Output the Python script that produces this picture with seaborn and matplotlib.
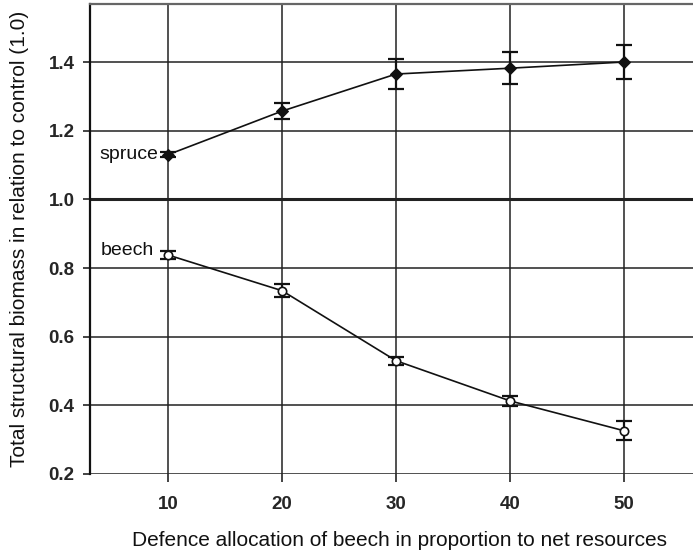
import matplotlib
matplotlib.use("Agg")
import matplotlib.pyplot as plt
import seaborn as sns
import pandas as pd
from matplotlib import font_manager

allocation = [10, 20, 30, 40, 50]
spruce = [1.13, 1.257, 1.365, 1.382, 1.40]
spruce_err = [0.008, 0.023, 0.043, 0.047, 0.05]
beech = [0.838, 0.734, 0.530, 0.413, 0.326]
beech_err = [0.012, 0.018, 0.012, 0.014, 0.027]
yticks = [0.2, 0.4, 0.6, 0.8, 1.0, 1.2, 1.4]
xticks = [10, 20, 30, 40, 50]

sns.set_theme(style="white")
names = {f.name for f in font_manager.fontManager.ttflist}
narrow = "Liberation Sans Narrow" if "Liberation Sans Narrow" in names else "Liberation Sans"
plt.rcParams['font.family'] = ['Liberation Sans', 'DejaVu Sans']

fig = plt.figure(figsize=(6.93, 5.52), dpi=100)
ax = fig.add_axes([90/693, 78/552, 1 - 90/693, (474-4)/552])

df_s = pd.DataFrame({"x": allocation, "y": spruce})
df_b = pd.DataFrame({"x": allocation, "y": beech})

# grid
for yv in yticks:
    ax.axhline(yv, color="#222222", lw=2.2 if yv == 1.0 else 1.1, zorder=1)
for xv in xticks:
    ax.axvline(xv, color="#222222", lw=1.1, zorder=1)

ax.errorbar(allocation, spruce, yerr=spruce_err, fmt="none", ecolor="#111111",
            elinewidth=1.6, capsize=6, capthick=1.6, zorder=3)
ax.errorbar(allocation, beech, yerr=beech_err, fmt="none", ecolor="#111111",
            elinewidth=1.6, capsize=6, capthick=1.6, zorder=3)

sns.lineplot(data=df_s, x="x", y="y", ax=ax, color="#111111", lw=1.2,
             marker="D", markersize=6, markerfacecolor="#111111",
             markeredgecolor="#111111", zorder=4)
sns.lineplot(data=df_b, x="x", y="y", ax=ax, color="#111111", lw=1.2,
             marker="o", markersize=6, markerfacecolor="white",
             markeredgecolor="#111111", markeredgewidth=1.2, zorder=4)

ax.annotate("spruce", xy=(10, spruce[0]), xytext=(-7, 0), textcoords="offset points",
            ha="right", va="center", fontsize=14, color="#111111")
ax.annotate("beech", xy=(10, beech[0]), xytext=(-10, 3), textcoords="offset points",
            ha="right", va="center", fontsize=14, color="#111111")

ax.set_xlim(3.16, 56.05)
ax.set_ylim(0.2, 1.569)
ax.set_xticks(xticks)
ax.set_yticks(yticks)
ax.set_xticklabels([str(v) for v in xticks], fontweight="bold", fontsize=13.5,
                   family=[narrow, 'DejaVu Sans'])
ax.set_yticklabels([f"{v:.1f}" for v in yticks], fontweight="bold", fontsize=13.5,
                   family=[narrow, 'DejaVu Sans'])
ax.tick_params(axis="x", direction="out", length=6, width=1.1, color="#111111",
               pad=10, bottom=True)
ax.tick_params(axis="y", direction="out", length=5, width=1.1, color="#111111",
               pad=6, left=True)

ax.set_xlabel("Defence allocation of beech in proportion to net resources",
              fontsize=15, labelpad=13, color="#111111")
ax.xaxis.label.set_x((400 - 90) / 603)
ax.set_ylabel("Total structural biomass in relation to control (1.0)",
              fontsize=15, labelpad=14, color="#111111")

for s in ["right", "bottom"]:
    ax.spines[s].set_visible(False)
ax.spines["left"].set_color("#111111")
ax.spines["left"].set_linewidth(1.6)
ax.spines["top"].set_color("#666666")
ax.spines["top"].set_linewidth(1.6)

fig.savefig("out.png", dpi=100)
